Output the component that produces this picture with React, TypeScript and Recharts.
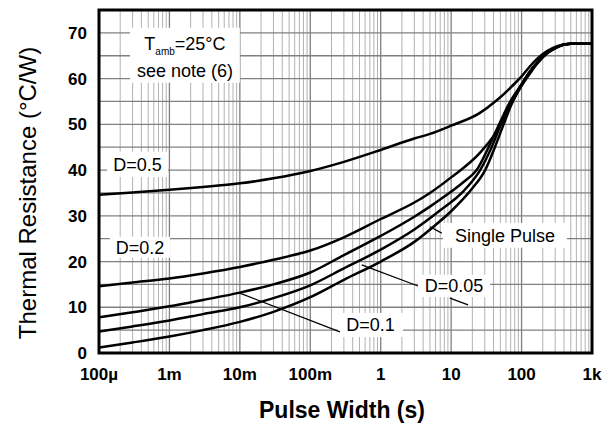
import {
  CartesianGrid,
  Line,
  LineChart,
  ReferenceArea,
  ReferenceLine,
  XAxis,
  YAxis,
} from "recharts";

const FONT = '"Liberation Sans", Arial, sans-serif';

// axis ticks
const xTicks = [1e-4, 1e-3, 1e-2, 1e-1, 1, 10, 100, 1000];
const xTickLabels = ["100µ", "1m", "10m", "100m", "1", "10", "100", "1k"];
const yTicks = [0, 10, 20, 30, 40, 50, 60, 70];
const yGrid = [0, 5, 10, 15, 20, 25, 30, 35, 40, 45, 50, 55, 60, 65, 70, 75];
const minorX = xTicks.slice(0, -1).flatMap((d) => [2, 3, 4, 5, 6, 7, 8, 9].map((m) => d * m));

// [pulse width (s), thermal resistance (°C/W)]
const dutyHalf: [number, number][] = [
  [1e-4, 34.6], [3e-4, 35.1], [1e-3, 35.7], [3e-3, 36.3], [1e-2, 37.1], [3e-2, 38.2],
  [0.1, 39.8], [0.3, 41.8], [1, 44.4], [3, 46.9], [5, 47.9], [10, 49.7], [25, 52.4],
  [44, 55.2], [76, 58.6], [100, 60.5], [130, 62.6], [163, 64.2], [230, 66.0], [320, 67.1],
  [500, 67.6], [1000, 67.6],
];
const dutyFifth: [number, number][] = [
  [1e-4, 14.6], [3e-4, 15.4], [1e-3, 16.3], [3e-3, 17.4], [1e-2, 18.8], [3e-2, 20.4],
  [0.1, 22.4], [0.3, 25.3], [1, 29.3], [3, 32.9], [5, 35.0], [10, 38.4], [25.8, 43.8],
  [44, 48.4], [68, 53.8], [100, 58.7], [130, 61.5], [163, 63.4], [227, 65.6], [316, 66.9],
  [500, 67.6], [1000, 67.6],
];
const dutyTenth: [number, number][] = [
  [1e-4, 7.8], [3e-4, 8.9], [1e-3, 10.2], [3e-3, 11.6], [1e-2, 13.2], [3e-2, 15.0],
  [0.1, 17.6], [0.3, 21.4], [1, 25.6], [3, 29.8], [5, 32.0], [8, 34.2], [15, 37.4],
  [23, 40.0], [34, 45.0], [48, 50.0], [68, 54.8], [100, 58.8], [130, 61.4], [163, 63.3],
  [227, 65.6], [316, 66.9], [500, 67.6], [1000, 67.6],
];
const dutyTwentieth: [number, number][] = [
  [1e-4, 4.7], [3e-4, 5.8], [1e-3, 7.1], [3e-3, 8.5], [1e-2, 10.0], [3e-2, 12.0],
  [0.1, 14.8], [0.3, 18.5], [1, 22.6], [3, 27.0], [7, 31.2], [15, 35.4], [25.8, 40.0],
  [37.6, 45.0], [51, 50.0], [71, 55.0], [100, 58.6], [130, 61.2], [163, 63.2], [227, 65.5],
  [316, 66.9], [500, 67.6], [1000, 67.6],
];
const singlePulse: [number, number][] = [
  [1e-4, 1.2], [3e-4, 2.3], [1e-3, 3.6], [3e-3, 5.0], [1e-2, 6.8], [3e-2, 9.0],
  [0.1, 12.2], [0.3, 16.0], [1, 20.0], [3, 24.3], [6, 28.0], [10, 31.0], [20, 36.0],
  [30.4, 40.0], [41.8, 45.0], [55.6, 50.0], [75, 55.0], [100, 58.4], [130, 61.0],
  [163, 63.1], [227, 65.4], [316, 66.8], [500, 67.6], [1000, 67.6],
];

const series = [dutyHalf, dutyFifth, dutyTenth, dutyTwentieth, singlePulse];

const toPoints = (rows: [number, number][]) => rows.map(([t, v]) => ({ t, v }));

function BoxText(props: any) {
  const { viewBox, lines } = props;
  if (!viewBox) return null;
  const cx = viewBox.x + viewBox.width / 2;
  const cy = viewBox.y + viewBox.height / 2;
  return (
    <text x={cx} y={cy + 6.5} textAnchor="middle" fontSize={18} fontFamily={FONT} fill="#000">
      {lines}
    </text>
  );
}

function NoteText(props: any) {
  const { viewBox } = props;
  if (!viewBox) return null;
  const cx = viewBox.x + viewBox.width / 2;
  return (
    <g fontFamily={FONT} fill="#000" fontSize={18}>
      <text x={cx} y={viewBox.y + 22} textAnchor="middle">
        T<tspan fontSize={10} dy={5}>amb</tspan>
        <tspan dy={-5}>=25°C</tspan>
      </text>
      <text x={cx} y={viewBox.y + 49} textAnchor="middle">see note (6)</text>
    </g>
  );
}

const tickStyle = { fontSize: 17, fontWeight: 700, fill: "#000", fontFamily: FONT };

export default function App() {
  return (
    <div style={{ width: 602, height: 424, background: "#fff" }}>
      <style>{"body{margin:0;background:#fff}"}</style>
      <LineChart width={602} height={424} margin={{ top: 10, right: 10, bottom: 0, left: 0 }}>
        <CartesianGrid verticalValues={minorX} horizontal={false} stroke="#b2b2b2" strokeWidth={1} />
        <CartesianGrid verticalValues={xTicks} horizontalValues={yGrid} stroke="#808080" strokeWidth={1.3} />
        <XAxis
          type="number"
          dataKey="t"
          scale="log"
          domain={[1e-4, 1000]}
          allowDataOverflow
          ticks={xTicks}
          interval={0}
          tickFormatter={(v: number, i: number) => xTickLabels[i]}
          tickLine={false}
          axisLine={false}
          tickSize={0}
          tickMargin={15}
          tick={tickStyle}
          height={71}
          label={{
            content: () => (
              <text x={342} y={418} textAnchor="middle" fontSize={23} fontWeight={700} fontFamily={FONT} fill="#000">
                Pulse Width (s)
              </text>
            ),
          }}
        />
        <YAxis
          type="number"
          domain={[0, 75]}
          ticks={yTicks}
          interval={0}
          tickLine={false}
          axisLine={false}
          tickSize={0}
          tickMargin={12}
          tick={tickStyle}
          width={99}
          label={{
            content: () => (
              <text
                x={27}
                y={193}
                transform="rotate(-90 27 193)"
                textAnchor="middle"
                dominantBaseline="central"
                fontSize={24}
                fontFamily={FONT}
                fill="#000"
              >
                Thermal Resistance (°C/W)
              </text>
            ),
          }}
        />
        {series.map((rows, i) => (
          <Line
            key={i}
            data={toPoints(rows)}
            dataKey="v"
            type="monotone"
            stroke="#000"
            strokeWidth={2.5}
            dot={false}
            activeDot={false}
            isAnimationActive={false}
          />
        ))}
        <ReferenceLine segment={[{ x: 0.01, y: 13.1 }, { x: 0.264, y: 4.6 }]} stroke="#000" strokeWidth={1.3} />
        <ReferenceLine segment={[{ x: 0.537, y: 19.25 }, { x: 3.38, y: 14.65 }]} stroke="#000" strokeWidth={1.3} />
        <ReferenceLine segment={[{ x: 9.6, y: 12.0 }, { x: 17.4, y: 10.5 }]} stroke="#000" strokeWidth={1.3} />
        <ReferenceLine segment={[{ x: 5.0, y: 27.6 }, { x: 7.35, y: 26.2 }]} stroke="#000" strokeWidth={1.3} />
        <ReferenceArea x1={2.76e-4} x2={0.01} y1={59.1} y2={71.1} fill="#fff" fillOpacity={1} stroke="none" label={(p: any) => <NoteText {...p} />} />
        <ReferenceArea x1={1.3e-4} x2={9.5e-4} y1={38.5} y2={44} fill="#fff" fillOpacity={1} stroke="none" label={(p: any) => <BoxText {...p} lines="D=0.5" />} />
        <ReferenceArea x1={1.43e-4} x2={1.02e-3} y1={20.8} y2={25.4} fill="#fff" fillOpacity={1} stroke="none" label={(p: any) => <BoxText {...p} lines="D=0.2" />} />
        <ReferenceArea x1={7.66} x2={441} y1={23.0} y2={28.4} fill="#fff" fillOpacity={1} stroke="none" label={(p: any) => <BoxText {...p} lines="Single Pulse" />} />
        <ReferenceArea x1={3.38} x2={35.7} y1={12.25} y2={17.1} fill="#fff" fillOpacity={1} stroke="none" label={(p: any) => <BoxText {...p} lines="D=0.05" />} />
        <ReferenceArea x1={0.247} x2={2.07} y1={3.5} y2={8.75} fill="#fff" fillOpacity={1} stroke="none" label={(p: any) => <BoxText {...p} lines="D=0.1" />} />
        <ReferenceArea x1={1e-4} x2={1000} y1={0} y2={75} fill="none" stroke="#000" strokeWidth={3} />
      </LineChart>
    </div>
  );
}
